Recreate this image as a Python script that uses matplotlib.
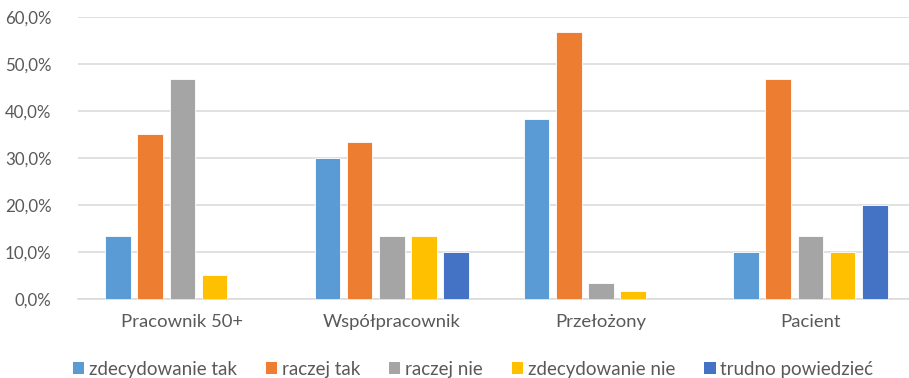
import matplotlib
matplotlib.use("Agg")
import matplotlib.pyplot as plt
from matplotlib.patches import Patch
import numpy as np

categories = ["Pracownik 50+", "Współpracownik", "Przełożony", "Pacient"]
series_names = ["zdecydowanie tak", "raczej tak", "raczej nie",
                "zdecydowanie nie", "trudno powiedzieć"]
zdecydowanie_tak = [13.3, 30.0, 38.3, 10.0]
raczej_tak = [35.0, 33.3, 56.7, 46.7]
raczej_nie = [46.7, 13.3, 3.3, 13.3]
zdecydowanie_nie = [5.0, 13.3, 1.7, 10.0]
trudno_powiedziec = [0.0, 10.0, 0.0, 20.0]
y_ticks = [0, 10, 20, 30, 40, 50, 60]

series = [zdecydowanie_tak, raczej_tak, raczej_nie, zdecydowanie_nie, trudno_powiedziec]
colors = ["#5B9BD5", "#ED7D31", "#A5A5A5", "#FFC000", "#4472C4"]

plt.rcParams["font.family"] = ["Lato", "DejaVu Sans"]
text_color = "#595959"

W, H = 909, 378
fig = plt.figure(figsize=(W / 100, H / 100), dpi=100)

left_px, bottom_px, top_px = 77.8, 299, 16.7
ax = fig.add_axes([left_px / W, (H - bottom_px) / H,
                   (W - left_px) / W, (bottom_px - top_px) / H])

cat_w = 209.3
x = np.arange(len(categories))
step = 32.2 / cat_w
bar_w = 25.6 / cat_w
for i, (vals, col, name) in enumerate(zip(series, colors, series_names)):
    ax.bar(x + (i - 2) * step, vals, width=bar_w, color=col,
           edgecolor="white", linewidth=0.6, label=name, zorder=3)

ax.set_xlim(-0.5, -0.5 + (W - left_px) / cat_w)
ax.set_ylim(0, 60)
ax.set_yticks(y_ticks)
ax.set_yticklabels([f"{v:.1f}%".replace(".", ",") for v in y_ticks],
                   color=text_color, fontsize=12.2)
ax.set_xticks(x)
ax.set_xticklabels(categories, color=text_color, fontsize=13.3)
ax.tick_params(axis="both", length=0)
ax.tick_params(axis="y", pad=19)
ax.tick_params(axis="x", pad=11)

ax.grid(axis="y", color="#D9D9D9", linewidth=1.1, zorder=0)
for s in ["top", "right", "left"]:
    ax.spines[s].set_visible(False)
ax.spines["bottom"].set_color("#D9D9D9")
ax.spines["bottom"].set_linewidth(1.1)

handles = [Patch(facecolor=c, edgecolor="none") for c in colors]
leg = fig.legend(handles, series_names, loc="center", ncol=5,
                 bbox_to_anchor=(473 / W, (H - 369) / H), frameon=False,
                 fontsize=13.5, handlelength=0.6, handleheight=0.6,
                 handletextpad=0.25, columnspacing=1.55, borderpad=0)
for t in leg.get_texts():
    t.set_color(text_color)

fig.savefig("out.png", dpi=100)
